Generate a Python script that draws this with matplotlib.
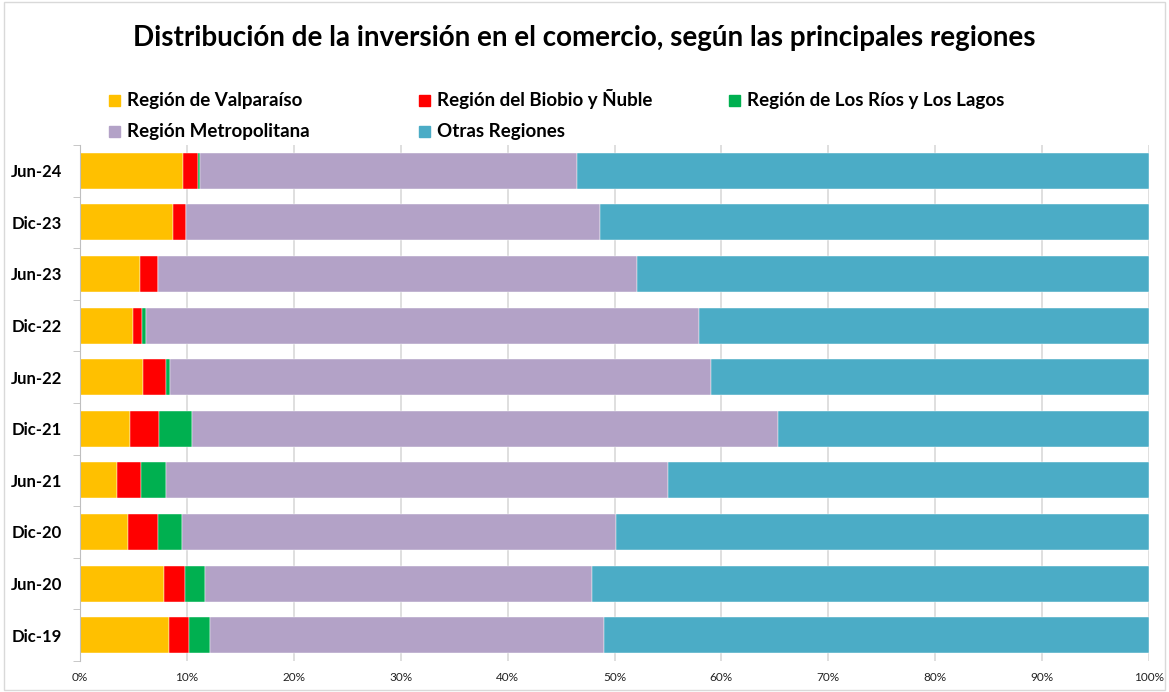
import numpy as np
import matplotlib
matplotlib.use("Agg")
import matplotlib.pyplot as plt
from matplotlib.ticker import FixedLocator, PercentFormatter

plt.rcParams['font.family'] = ['Lato', 'DejaVu Sans']

periodos = ['Dic-19', 'Jun-20', 'Dic-20', 'Jun-21', 'Dic-21',
            'Jun-22', 'Dic-22', 'Jun-23', 'Dic-23', 'Jun-24']

# participacion (%) por region, de Dic-19 a Jun-24
valparaiso = [8.3, 7.9, 4.5, 3.5, 4.7, 5.85, 5.0, 5.6, 8.7, 9.6]
biobio = [1.9, 1.9, 2.75, 2.2, 2.7, 2.2, 0.8, 1.7, 1.2, 1.4]
los_rios = [2.0, 1.9, 2.25, 2.3, 3.1, 0.4, 0.4, 0.0, 0.0, 0.25]
metropolitana = [36.8, 36.2, 40.6, 47.0, 54.8, 50.55, 51.7, 44.8, 38.75, 35.25]
otras = [100 - a - b - c - d for a, b, c, d in
         zip(valparaiso, biobio, los_rios, metropolitana)]

series = [
    ('Región de Valparaíso', valparaiso, '#FFC000'),
    ('Región del Biobio y Ñuble', biobio, '#FF0000'),
    ('Región de Los Ríos y Los Lagos', los_rios, '#00B050'),
    ('Región Metropolitana', metropolitana, '#B3A2C7'),
    ('Otras Regiones', otras, '#4BACC6'),
]

W, H = 1169, 692
fig = plt.figure(figsize=(W / 100, H / 100), dpi=100)
ax = fig.add_axes([80 / W, 1 - 661 / H, 1069 / W, 516 / H])

y = np.arange(len(periodos))
left = np.zeros(len(periodos))
for nombre, vals, color in series:
    ax.barh(y, vals, left=left, height=0.7, color=color, label=nombre,
            edgecolor='white', linewidth=0.3)
    left += np.array(vals)

ax.set_xlim(0, 100)
ax.set_ylim(-0.5, len(periodos) - 0.5)
ax.set_xticks(np.arange(0, 101, 10))
ax.xaxis.set_major_formatter(PercentFormatter(decimals=0))
ax.set_yticks(y)
ax.set_yticklabels(periodos, fontweight='bold', fontsize=12)
ax.yaxis.set_minor_locator(FixedLocator(np.arange(-0.5, len(periodos), 1)))
ax.tick_params(axis='y', which='major', length=0, pad=13)
ax.tick_params(axis='y', which='minor', length=5, color='#BFBFBF')
ax.tick_params(axis='x', length=0, labelsize=8.5, pad=8, colors='#222222')
ax.grid(axis='x', color='#D9D9D9', linewidth=1.2)
ax.set_axisbelow(True)
for s in ['top', 'right', 'bottom']:
    ax.spines[s].set_visible(False)
ax.spines['left'].set_color('#BFBFBF')

fig.suptitle('Distribución de la inversión en el comercio, según las principales regiones',
             fontsize=20, fontweight='bold', y=1 - 38 / H, va='center')

# leyenda manual, llenada por filas como en Excel
pos = [(109, 106), (419, 106), (729, 106), (109, 136.5), (419, 136.5)]
for (nombre, _, color), (px, py) in zip(series, pos):
    fig.patches.append(plt.Rectangle((px / W, 1 - py / H), 11 / W, 11 / H,
                                     transform=fig.transFigure, color=color))
    fig.text((px + 18) / W, 1 - py / H, nombre, fontsize=13.5, fontweight='bold',
             va='baseline', ha='left')

fig.patches.append(plt.Rectangle((0.003, 0.003), 0.994, 0.994, transform=fig.transFigure,
                                 fill=False, edgecolor='#D9D9D9', linewidth=1))

fig.savefig('out.png', dpi=100)
